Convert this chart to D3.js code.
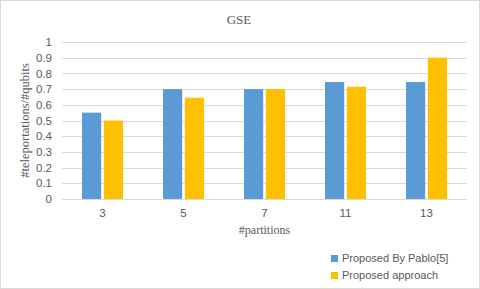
<!DOCTYPE html>
<html>
<head>
<meta charset="utf-8">
<script src="https://cdn.jsdelivr.net/npm/d3@7"></script>
<style>
  body { margin: 0; background: #fff; }
  svg { display: block; }
</style>
</head>
<body>
<div id="chart"></div>
<script>
// data
const partitions = ["3", "5", "7", "11", "13"];
const pablo = [0.55, 0.70, 0.70, 0.745, 0.745];
const proposed = [0.50, 0.645, 0.70, 0.715, 0.90];
const seriesNames = ["Proposed By Pablo[5]", "Proposed approach"];
const yTicks = [0, 0.1, 0.2, 0.3, 0.4, 0.5, 0.6, 0.7, 0.8, 0.9, 1];

const W = 480, H = 289;
const margin = {top: 42, right: 13, bottom: 90, left: 62};
const width = W - margin.left - margin.right;
const height = H - margin.top - margin.bottom;
const colors = ["#5b9bd5", "#ffc000"];
const serif = "'Liberation Serif', 'DejaVu Serif', serif";
const sans = "'Liberation Sans', Arial, sans-serif";

var svg = d3.select("#chart").append("svg")
    .attr("width", W)
    .attr("height", H);

// chart frame
svg.append("rect")
    .attr("x", 0.5).attr("y", 0.5)
    .attr("width", W - 1).attr("height", H - 1)
    .attr("fill", "#fff")
    .attr("stroke", "#d9d9d9");

var g = svg.append("g")
    .attr("transform", "translate(" + margin.left + "," + margin.top + ")");

var xScale = d3.scaleBand().domain(partitions).range([0, width]);
var xInner = d3.scaleBand().domain([0, 1]).range([20, 61]).paddingInner(0.12);
var yScale = d3.scaleLinear().domain([0, 1]).range([height, 0]);

// gridlines
g.selectAll(".grid").data(yTicks).enter().append("line")
    .attr("x1", 0).attr("x2", width)
    .attr("y1", d => Math.round(yScale(d)) + 0.5)
    .attr("y2", d => Math.round(yScale(d)) + 0.5)
    .attr("stroke", "#d9d9d9")
    .attr("stroke-width", 1);

// y axis labels
var yAxis = d3.axisLeft(yScale).tickValues(yTicks).tickSize(0).tickPadding(10)
    .tickFormat(d => d3.format("")(+d.toFixed(1)));
g.append("g").attr("class", "y axis").call(yAxis)
    .call(s => s.select(".domain").remove())
    .selectAll("text")
    .attr("fill", "#595959")
    .style("font-family", sans)
    .style("font-size", "11.5px");

// x axis labels
var xAxis = d3.axisBottom(xScale).tickSize(0).tickPadding(10);
g.append("g").attr("class", "x axis")
    .attr("transform", "translate(0," + height + ")")
    .call(xAxis)
    .call(s => s.select(".domain").remove())
    .selectAll("text")
    .attr("fill", "#595959")
    .style("font-family", sans)
    .style("font-size", "11.5px");

// bars
var rows = partitions.map((p, i) => ({p: p, vals: [pablo[i], proposed[i]]}));
var groups = g.selectAll(".cat").data(rows).enter().append("g")
    .attr("class", "cat")
    .attr("transform", d => "translate(" + xScale(d.p) + ",0)");
groups.selectAll("rect").data(d => d.vals).enter().append("rect")
    .attr("x", (d, i) => xInner(i))
    .attr("width", xInner.bandwidth())
    .attr("y", d => yScale(d))
    .attr("height", d => height - yScale(d))
    .attr("fill", (d, i) => colors[i]);

// title
svg.append("text")
    .attr("x", 239).attr("y", 24)
    .attr("text-anchor", "middle")
    .attr("fill", "#595959")
    .style("font-family", serif)
    .style("font-size", "13px")
    .text("GSE");

// axis titles
svg.append("text")
    .attr("x", margin.left + width / 2).attr("y", 234)
    .attr("text-anchor", "middle")
    .attr("fill", "#595959")
    .style("font-family", serif)
    .style("font-size", "12px")
    .text("#partitions");

svg.append("text")
    .attr("transform", "translate(29," + (margin.top + height / 2) + ") rotate(-90)")
    .attr("text-anchor", "middle")
    .attr("fill", "#595959")
    .style("font-family", serif)
    .style("font-size", "12.5px")
    .text("#teleportations/#qubits");

// legend
var legend = svg.selectAll(".legend").data(seriesNames).enter().append("g")
    .attr("class", "legend")
    .attr("transform", (d, i) => "translate(331," + (255 + i * 17) + ")");
legend.append("rect")
    .attr("width", 7).attr("height", 7)
    .attr("fill", (d, i) => colors[i]);
legend.append("text")
    .attr("x", 11).attr("y", 7)
    .attr("fill", "#595959")
    .style("font-family", sans)
    .style("font-size", "11px")
    .text(d => d);
</script>
</body>
</html>
